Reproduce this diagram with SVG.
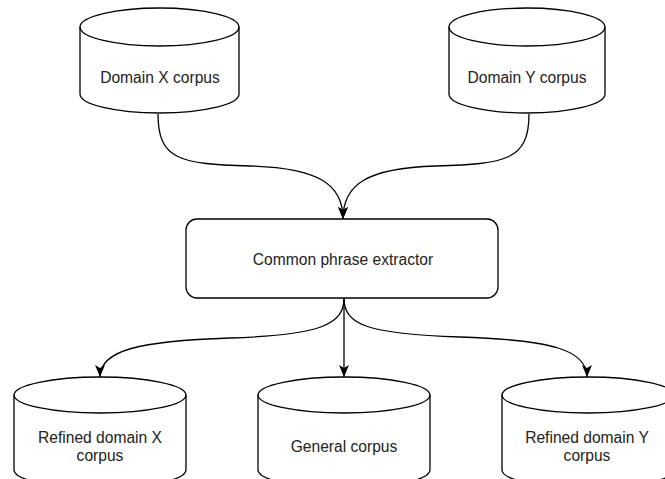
<svg xmlns="http://www.w3.org/2000/svg" width="665" height="479" viewBox="0 0 665 479">
<style>
.shape{fill:#fff;stroke:#000;stroke-width:1.3}
.rim{fill:none;stroke:#000;stroke-width:1.3}
.edge{fill:none;stroke:#000;stroke-width:1.3}
.lbl{font-family:"Liberation Sans",Arial,sans-serif;font-size:15.6px;fill:#222;text-anchor:middle}
</style>
<defs>
<marker id="arr" markerUnits="userSpaceOnUse" markerWidth="12" markerHeight="10" viewBox="0 0 12 10" refX="12" refY="5" orient="auto">
<path d="M0,0 L12,5 L0,10 L3,5 Z" fill="#000"/>
</marker>
</defs>
<rect width="665" height="479" fill="#fff"/>
<g id="connectors">
<path class="edge" d="M158,114 C158,160 180,164 250,166 C320,168 343,185 343,219" marker-end="url(#arr)"/>
<path class="edge" d="M529,114 C529,160 506,164 436,166 C366,168 343,185 343,219" marker-end="url(#arr)"/>
<path class="edge" d="M344,298 C344,325 320,335 230,338 C140,341 100,350 100,377" marker-end="url(#arr)"/>
<path class="edge" d="M344,298 L344,377" marker-end="url(#arr)"/>
<path class="edge" d="M344,298 C344,325 368,334 460,337 C552,340 587,350 587,377" marker-end="url(#arr)"/>
</g>
<g id="domainX">
<path class="shape" d="M80,27 A79.5,19 0 0 1 239,27 L239,94 A79.5,19 0 0 1 80,94 Z"/>
<path class="rim" d="M80,27 A79.5,19 0 0 0 239,27"/>
<text class="lbl" x="160" y="83">Domain X corpus</text>
</g>
<g id="domainY">
<path class="shape" d="M449,27 A78,19 0 0 1 605,27 L605,94 A78,19 0 0 1 449,94 Z"/>
<path class="rim" d="M449,27 A78,19 0 0 0 605,27"/>
<text class="lbl" x="527" y="83">Domain Y corpus</text>
</g>
<g id="extractor">
<rect class="shape" x="186" y="219" width="312" height="79" rx="11" ry="11"/>
<text class="lbl" x="343" y="265">Common phrase extractor</text>
</g>
<g id="refinedX">
<path class="shape" d="M14,395 A86,18 0 0 1 186,395 L186,470 A86,18 0 0 1 14,470 Z"/>
<path class="rim" d="M14,395 A86,18 0 0 0 186,395"/>
<text class="lbl" x="100" y="443">Refined domain X</text>
<text class="lbl" x="100" y="461">corpus</text>
</g>
<g id="general">
<path class="shape" d="M258,395 A86,18 0 0 1 430,395 L430,470 A86,18 0 0 1 258,470 Z"/>
<path class="rim" d="M258,395 A86,18 0 0 0 430,395"/>
<text class="lbl" x="344" y="452">General corpus</text>
</g>
<g id="refinedY">
<path class="shape" d="M502,395 A86,18 0 0 1 674,395 L674,470 A86,18 0 0 1 502,470 Z"/>
<path class="rim" d="M502,395 A86,18 0 0 0 674,395"/>
<text class="lbl" x="587" y="443">Refined domain Y</text>
<text class="lbl" x="587" y="461">corpus</text>
</g>
</svg>
